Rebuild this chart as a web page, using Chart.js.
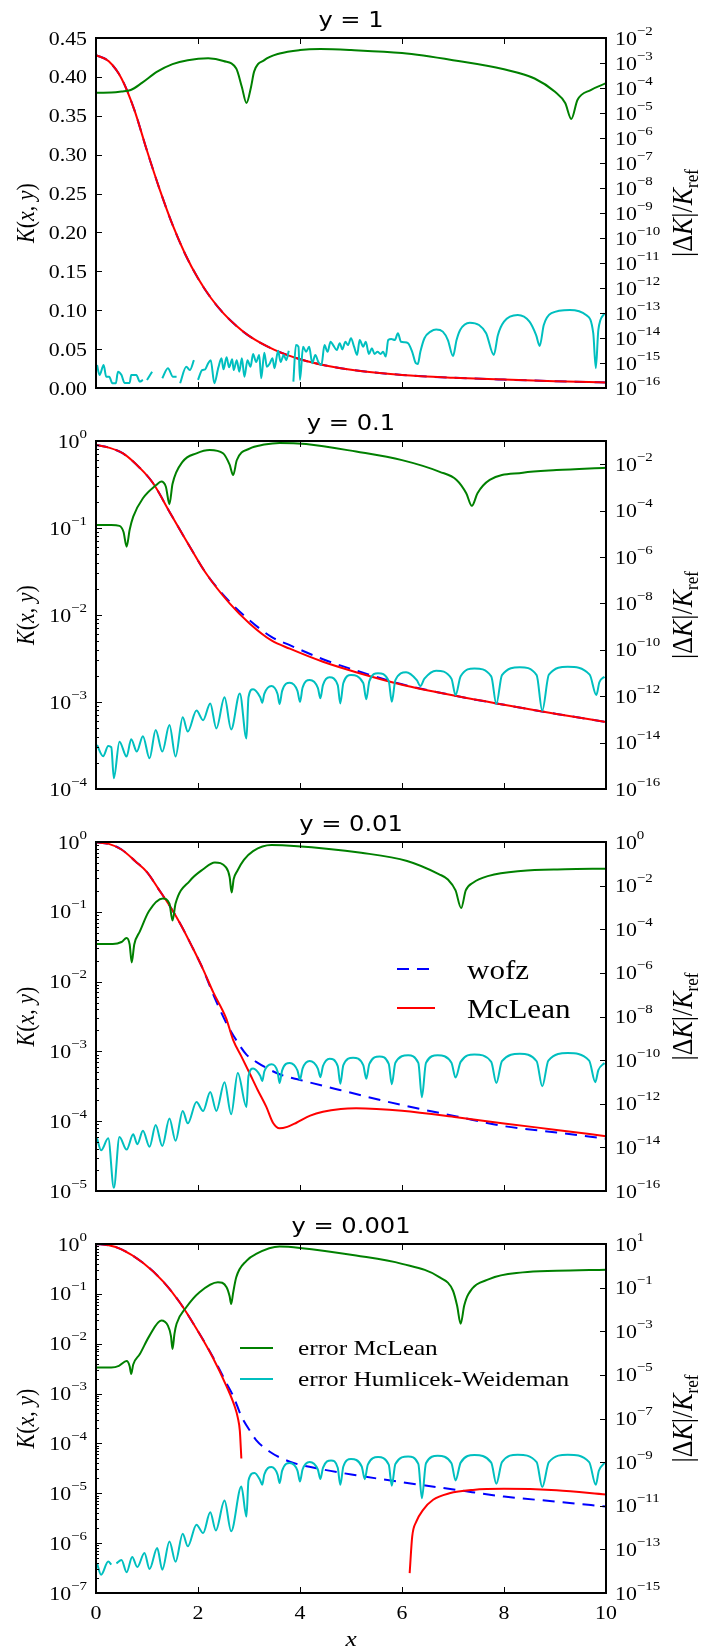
<!DOCTYPE html>
<html>
<head>
<meta charset="utf-8">
<script src="https://cdn.jsdelivr.net/npm/chart.js@4.4.0/dist/chart.umd.min.js"></script>
<style>
  body { margin: 0; background: #fff; width: 710px; height: 1650px; position: relative; overflow: hidden; }
  canvas { position: absolute; left: 0; }
</style>
</head>
<body>
<canvas id="c1" width="710" height="402" style="top:0px"></canvas>
<canvas id="c2" width="710" height="402" style="top:402px"></canvas>
<canvas id="c3" width="710" height="402" style="top:804px"></canvas>
<canvas id="c4" width="710" height="444" style="top:1206px"></canvas>
<script>
// panel titles, tick labels and legend texts
const titles = ['y = 1', 'y = 0.1', 'y = 0.01', 'y = 0.001'];
const xTicks = [0, 2, 4, 6, 8, 10];
const p1LeftTicks = [0, 0.05, 0.1, 0.15, 0.2, 0.25, 0.3, 0.35, 0.4, 0.45];
const p1RightExp = [-2, -3, -4, -5, -6, -7, -8, -9, -10, -11, -12, -13, -14, -15, -16];
const p2LeftExp = [0, -1, -2, -3, -4];
const p2RightExp = [-2, -4, -6, -8, -10, -12, -14, -16];
const p3LeftExp = [0, -1, -2, -3, -4, -5];
const p3RightExp = [0, -2, -4, -6, -8, -10, -12, -14, -16];
const p4LeftExp = [0, -1, -2, -3, -4, -5, -6, -7];
const p4RightExp = [1, -1, -3, -5, -7, -9, -11, -13, -15];
const legend3Labels = ['wofz', 'McLean'];
const legend4Labels = ['error McLean', 'error Humlicek-Weideman'];

// ---- y = 1 ----
const p1Red = [[0,0.428],[0.25,0.42],[0.5,0.398],[0.75,0.358],[1.0,0.305],[1.25,0.255],[1.5,0.21],[1.75,0.172],[2.0,0.141],[2.25,0.116],[2.5,0.096],[2.75,0.08],[3.0,0.067],[3.5,0.049],[4.0,0.037],[4.5,0.029],[5.0,0.0235],[6.0,0.0168],[7.0,0.0132],[8.0,0.0108],[9.0,0.0088],[10,0.0072]];
const p1Blue = [[0,0.428],[0.25,0.42],[0.5,0.398],[0.75,0.358],[1.0,0.305],[1.25,0.255],[1.5,0.21],[1.75,0.172],[2.0,0.141],[2.25,0.116],[2.5,0.096],[2.75,0.08],[3.0,0.067],[3.5,0.049],[4.0,0.037],[4.5,0.029],[5.0,0.0235],[6.0,0.0168],[7.0,0.0132],[8.0,0.0108],[9.0,0.0088],[10,0.0072]];
const p1Green = [[0,6.5e-5],[0.3,6.6e-5],[0.5,7.2e-5],[0.68,8.3e-5],[0.9,1.6e-4],[1.2,4.5e-4],[1.5,9e-4],[1.8,1.3e-3],[2.2,1.55e-3],[2.5,1.2e-3],[2.75,6e-4],[2.86,1.1e-4],[2.95,2.5e-5],[3.04,1.1e-4],[3.1,4.5e-4],[3.3,1.3e-3],[3.6,2.4e-3],[4.0,3.3e-3],[4.4,3.6e-3],[5.0,3.3e-3],[6.0,2.5e-3],[7.0,1.3e-3],[8.0,5.6e-4],[8.6,2.4e-4],[9.0,7e-5],[9.2,2.5e-5],[9.32,5.8e-6],[9.44,3.3e-5],[9.7,8.3e-5],[10,1.55e-4]];
const p1Cyan = [[0.02,8.3e-16],[0.07,3.3e-16],[0.15,8.3e-16],[0.2,2.8e-16],[0.26,2.8e-16],[0.32,1.55e-16],[0.39,1.55e-16],[0.43,4.5e-16],[0.5,3.3e-16],[0.56,1.6e-16],[0.66,1.6e-16],[0.69,3.3e-16],[0.79,3.3e-16],[0.86,1.8e-16],[0.92,2.1e-16],[0.96,null],
  [1.0,2.1e-16],[1.1,4.5e-16],[1.2,null],
  [1.3,2.45e-16],[1.41,6.2e-16],[1.51,2.8e-16],[1.58,2.8e-16],[1.62,null],
  [1.65,1.55e-16],[1.77,7.1e-16],[1.84,5.2e-16],[1.92,1.3e-15],[1.96,null],
  [2.0,2.1e-16],[2.08,5.2e-16],[2.14,5.6e-16],[2.2,9.8e-16],[2.25,1.3e-15],[2.32,1.55e-16],[2.4,6.7e-16],[2.46,1.55e-15],[2.5,5.6e-16],[2.56,1.7e-15],[2.61,6.7e-16],[2.67,1.4e-15],[2.7,5.2e-16],[2.76,1.3e-15],[2.81,4.5e-16],[2.86,1.55e-15],[2.91,2.8e-16],[2.97,1.3e-15],[3.03,7.1e-16],[3.08,2.3e-15],[3.14,1.1e-15],[3.2,2.1e-15],[3.24,2.45e-16],[3.3,2.6e-15],[3.35,7.1e-16],[3.41,9.8e-16],[3.46,1.55e-15],[3.5,6.2e-16],[3.57,3.1e-15],[3.62,1.1e-15],[3.68,2.1e-15],[3.73,1.3e-15],[3.78,3.1e-15],[3.82,null],
  [3.87,1.8e-16],[3.92,5.2e-15],[3.97,4.5e-15],[4.0,2.1e-16],[4.06,4.5e-15],[4.12,2.8e-15],[4.18,4.5e-15],[4.24,9.8e-16],[4.3,2.1e-15],[4.36,1.1e-15],[4.42,8.3e-16],[4.48,5.2e-15],[4.54,2.8e-15],[4.6,7.1e-15],[4.65,5.2e-15],[4.72,3.3e-15],[4.78,6.2e-15],[4.83,3.5e-15],[4.89,7.1e-15],[4.94,5.2e-15],[5.0,9.8e-15],[5.06,4.5e-15],[5.12,2.1e-15],[5.17,8.3e-15],[5.24,4.5e-15],[5.29,7.1e-15],[5.35,2.3e-15],[5.41,3.9e-15],[5.46,2.3e-15],[5.52,2.8e-15],[5.58,2.3e-15],[5.63,2.8e-15],[5.68,1.8e-15],[5.73,8.3e-15],[5.79,9.1e-15],[5.86,8.3e-15],[5.92,1.55e-14],[5.98,7.1e-15],[6.05,6.8e-15],[6.12,6.2e-15],[6.2,2.8e-15],[6.27,9.8e-16],[6.31,9.1e-16],
  [6.36,2.8e-15],[6.44,9.8e-15],[6.56,1.8e-14],[6.67,2.2e-14],[6.8,1.8e-14],[6.9,8.3e-15],[7.0,1.9e-15],[7.07,8.3e-15],[7.14,2.1e-14],[7.33,4.1e-14],[7.51,3.3e-14],[7.65,1.55e-14],[7.8,2.1e-15],[7.88,1.3e-14],[8.0,4.5e-14],[8.27,8.3e-14],[8.5,4.5e-14],[8.63,1.3e-14],[8.7,4.8e-15],[8.78,3.3e-14],[8.93,9.8e-14],[9.29,1.32e-13],[9.61,8.3e-14],[9.75,1.55e-14],[9.8,6.2e-16],[9.85,2.1e-14],[9.97,9.8e-14]];

// ---- y = 0.1 ----
const p2Red = [[0,0.9],[0.25,0.84],[0.53,0.72],[0.86,0.49],[1.12,0.327],[1.44,0.154],[1.84,0.061],[2.16,0.03],[2.62,0.0136],[3.01,0.008],[3.44,0.0051],[3.8,0.0041],[4.45,0.0029],[5.1,0.0022],[6.0,0.00158],[7.07,0.00117],[8.0,0.00093],[9.03,0.00073],[10,0.00059]];
const p2Blue = [[0,0.9],[0.25,0.84],[0.53,0.72],[0.86,0.49],[1.12,0.327],[1.44,0.154],[1.84,0.061],[2.16,0.03],[2.62,0.0142],[3.01,0.0087],[3.44,0.0056],[3.8,0.0045],[4.45,0.0031],[5.1,0.0023],[6.0,0.0016],[7.07,0.00117],[8.0,0.00093],[9.03,0.00073],[10,0.00059]];
const p2Green = [[0,2.4e-5],[0.3,2.4e-5],[0.46,2.2e-5],[0.54,1.2e-5],[0.6,2.8e-6],[0.66,1.5e-5],[0.73,5.5e-5],[0.92,3.4e-4],[1.18,1.26e-3],[1.28,1.8e-3],[1.37,1.07e-3],[1.44,1.9e-4],[1.5,1.4e-3],[1.7,0.0129],[1.97,0.0295],[2.23,0.041],[2.49,0.0295],[2.62,0.0095],[2.69,0.0034],[2.76,0.0148],[3.01,0.047],[3.3,0.07],[3.6,0.083],[4.12,0.074],[5.1,0.035],[6.0,0.015],[6.74,0.0047],[7.07,0.0021],[7.26,5.6e-4],[7.37,1.6e-4],[7.48,5.6e-4],[7.72,0.0021],[8.37,0.0043],[9.03,0.0056],[10,0.0071]];
const p2Cyan = [[0.02,7.9e-15],[0.14,2.6e-15],[0.24,7.1e-15],[0.3,6.3e-15],[0.35,2.9e-16],[0.46,1.1e-14],[0.6,2.5e-15],[0.69,1.4e-14],[0.8,4.1e-15],[0.92,1.9e-14],[1.05,2.1e-15],[1.17,3.5e-14],[1.3,4.1e-15],[1.44,5.7e-14],[1.56,2.5e-15],[1.7,1.23e-13],[1.8,3e-14],[1.97,2.4e-13],[2.1,9.3e-14],[2.24,4.9e-13],[2.36,4.1e-14],[2.52,8.9e-13],[2.65,3.7e-14],[2.82,1.32e-12],[2.95,1.5e-14],
  [2.99,9e-13],[3.08,2e-12],[3.22,9e-13],[3.26,5.2e-13],
  [3.30,1.25e-12],[3.44,2.75e-12],[3.56,1.25e-12],[3.6,4.6e-13],
  [3.65,1.7e-12],[3.8,3.8e-12],[3.95,1.7e-12],[4.0,5.7e-13],
  [4.05,2.3e-12],[4.19,5e-12],[4.35,2.3e-12],[4.4,8.1e-13],
  [4.45,3e-12],[4.58,6.5e-12],[4.74,3e-12],[4.79,4.9e-13],
  [4.85,3.7e-12],[5.0,8.1e-12],[5.24,3.7e-12],[5.3,7.4e-13],
  [5.36,4.5e-12],[5.53,9.8e-12],[5.74,4.5e-12],[5.8,5.7e-13],
  [5.87,4.9e-12],[6.08,1.07e-11],[6.29,4.9e-12],[6.36,2.75e-12],
  [6.44,5.7e-12],[6.67,1.26e-11],[6.97,5.7e-12],[7.05,1.12e-12],
  [7.15,7.2e-12],[7.42,1.58e-11],[7.75,7.2e-12],[7.85,4.6e-13],
  [7.96,8.1e-12],[8.31,1.78e-11],[8.64,8.1e-12],[8.75,2.4e-13],
  [8.88,8.5e-12],[9.25,1.86e-11],[9.68,8.5e-12],[9.81,1.12e-12],
  [9.87,4e-12],[9.97,6.9e-12]];

// ---- y = 0.01 ----
const p3Red = [[0,0.99],[0.25,0.94],[0.5,0.78],[0.77,0.53],[1.0,0.37],[1.22,0.215],[1.45,0.12],[1.66,0.066],[1.9,0.03],[2.1,0.015],[2.3,0.007],[2.55,0.003],[2.69,1.45e-3],[2.85,8.5e-4],[3.01,4.9e-4],[3.17,2.8e-4],[3.34,1.6e-4],[3.47,9.5e-5],[3.6,7.9e-5],[3.75,8.3e-5],[3.93,9.5e-5],[4.2,1.2e-4],[4.45,1.37e-4],[4.8,1.5e-4],[5.1,1.53e-4],[5.5,1.5e-4],[6.0,1.41e-4],[7.07,1.14e-4],[8.0,9.3e-5],[9.03,7.5e-5],[10,6.1e-5]];
const p3Blue = [[0,0.99],[0.25,0.94],[0.5,0.78],[0.77,0.53],[1.0,0.37],[1.22,0.215],[1.45,0.12],[1.66,0.066],[1.9,0.03],[2.1,0.015],[2.3,0.0065],[2.55,0.0026],[2.75,1.45e-3],[2.95,9e-4],[3.14,7.1e-4],[3.6,4.7e-4],[4.0,3.9e-4],[4.78,2.8e-4],[6.0,1.7e-4],[7.07,1.17e-4],[8.0,8.5e-5],[9.03,6.9e-5],[10,5.6e-5]];
const p3Green = [[0,2.1e-5],[0.33,2.1e-5],[0.5,2.6e-5],[0.6,4e-5],[0.66,2e-5],[0.7,3e-6],[0.75,2e-5],[0.86,8e-5],[1.04,6.9e-4],[1.31,2.6e-3],[1.44,1.5e-3],[1.5,2.5e-4],[1.56,1.5e-3],[1.84,0.0166],[2.1,0.056],[2.33,0.115],[2.55,0.068],[2.62,0.025],[2.66,0.0048],[2.7,0.02],[2.77,0.047],[2.9,0.15],[3.08,0.38],[3.44,0.72],[3.88,0.66],[5.2,0.32],[6.1,0.135],[6.73,0.033],[6.9,0.019],[7.05,0.006],[7.16,9.3e-4],[7.25,0.006],[7.4,0.014],[7.7,0.028],[8.33,0.047],[9.2,0.056],[10,0.06]];
const p3Cyan = [[0.02,2.6e-14],[0.1,7.4e-15],[0.24,2.6e-14],[0.35,1.4e-16],[0.46,3e-14],[0.6,7.9e-15],[0.73,4e-14],[0.81,1.4e-14],[0.92,5.8e-14],[1.05,1.07e-14],[1.17,1.07e-13],[1.3,1.15e-14],[1.44,2.1e-13],[1.56,2e-14],[1.7,4.7e-13],[1.8,1.26e-13],[1.97,1.2e-12],[2.1,4.7e-13],[2.24,3.5e-12],[2.36,4.7e-13],[2.52,9.8e-12],[2.65,3.3e-13],[2.78,2.6e-11],[2.95,7.1e-13],
  [2.99,1.9e-11],[3.08,4.1e-11],[3.22,1.9e-11],[3.26,1.1e-11],
  [3.30,3e-11],[3.44,6.5e-11],[3.56,3e-11],[3.6,8.9e-12],
  [3.65,3.4e-11],[3.8,7.4e-11],[3.95,3.4e-11],[4.0,1.26e-11],
  [4.05,4.1e-11],[4.19,9.1e-11],[4.35,4.1e-11],[4.4,1.66e-11],
  [4.45,5.3e-11],[4.58,1.17e-10],[4.74,5.3e-11],[4.79,8.3e-12],
  [4.85,5.9e-11],[5.04,1.29e-10],[5.24,5.9e-11],[5.3,1.4e-11],
  [5.36,6.7e-11],[5.56,1.48e-10],[5.74,6.7e-11],[5.8,7.8e-12],
  [5.87,7.5e-11],[6.12,1.66e-10],[6.32,7.5e-11],[6.39,2e-12],
  [6.47,7.5e-11],[6.7,1.66e-10],[6.97,7.5e-11],[7.05,1.58e-11],
  [7.15,8.3e-11],[7.42,1.82e-10],[7.75,8.3e-11],[7.85,8.9e-12],
  [7.96,8.9e-11],[8.31,1.95e-10],[8.64,8.9e-11],[8.75,6.3e-12],
  [8.87,9.5e-11],[9.25,2.1e-10],[9.67,9.5e-11],[9.79,9.8e-12],
  [9.85,3.5e-11],[9.97,7.4e-11]];

// ---- y = 0.001 ----
const p4Red = [[0,1.0],[0.25,0.94],[0.5,0.78],[0.92,0.42],[1.31,0.18],[1.64,0.068],[1.97,0.02],[2.29,0.0053],[2.56,0.0014],[2.72,5.5e-4],[2.78,3.3e-4],[2.82,1.8e-4],[2.85,5e-5],[2.9,null],
  [6.15,2.5e-7],[6.2,1.35e-6],[6.28,2.7e-6],[6.41,4.6e-6],[6.61,7.4e-6],[6.93,1e-5],[7.39,1.17e-5],[8.0,1.23e-5],[9.03,1.15e-5],[10,9.5e-6]];
const p4Blue = [[0,1.0],[0.25,0.94],[0.5,0.78],[0.92,0.42],[1.31,0.18],[1.64,0.068],[1.97,0.02],[2.29,0.0055],[2.56,1.6e-3],[2.7,8.5e-4],[2.85,3.5e-4],[3.05,1.6e-4],[3.14,1.17e-4],[3.4,6.9e-5],[3.8,4.3e-5],[4.45,3e-5],[5.1,2.3e-5],[6.0,1.67e-5],[7.07,1.17e-5],[8.0,8.6e-6],[9.03,6.8e-6],[10,5.4e-6]];
const p4Green = [[0,2.2e-5],[0.3,2.2e-5],[0.45,2.6e-5],[0.6,4.3e-5],[0.66,2.5e-5],[0.69,1.1e-5],[0.73,3e-5],[0.86,9e-5],[1.05,6.3e-4],[1.28,3.1e-3],[1.41,1.8e-3],[1.47,6e-4],[1.5,1.55e-4],[1.54,8e-4],[1.58,2.2e-3],[1.77,0.0126],[2.03,0.062],[2.39,0.178],[2.56,0.105],[2.62,0.04],[2.65,0.0178],[2.69,0.06],[2.75,0.3],[2.95,1.7],[3.14,3.5],[3.6,7.6],[4.0,6.6],[5.1,2.95],[6.0,1.23],[6.74,0.295],[7.0,0.072],[7.08,0.015],[7.15,0.0022],[7.22,0.015],[7.3,0.05],[7.72,0.25],[8.37,0.5],[9.03,0.59],[10,0.66]];
const p4Cyan = [[0.02,2.3e-14],[0.1,6.9e-15],[0.24,2.8e-14],[0.3,2e-14],[0.33,null],[0.4,2.3e-14],[0.5,3.3e-14],[0.6,8.9e-15],[0.71,4.5e-14],[0.81,1.55e-14],[0.95,6.8e-14],[1.05,1.26e-14],[1.2,1.15e-13],[1.3,1.17e-14],[1.44,2.3e-13],[1.56,2.7e-14],[1.7,5.2e-13],[1.8,1.38e-13],[1.97,1.35e-12],[2.1,5.6e-13],[2.24,5e-12],[2.35,7.4e-13],[2.52,1.74e-11],[2.65,6.8e-13],[2.85,7.6e-11],[2.95,3.2e-12],
  [2.99,1.45e-10],[3.11,3.2e-10],[3.22,1.45e-10],[3.26,9.1e-11],
  [3.30,2.7e-10],[3.44,5.9e-10],[3.56,2.7e-10],[3.6,1.1e-10],
  [3.65,4.1e-10],[3.8,9.1e-10],[3.95,4.1e-10],[4.0,1.29e-10],
  [4.05,4.6e-10],[4.19,1.02e-9],[4.35,4.6e-10],[4.4,1.7e-10],
  [4.45,5.5e-10],[4.61,1.2e-9],[4.74,5.5e-10],[4.79,9.1e-11],
  [4.85,6.3e-10],[5.0,1.38e-9],[5.21,6.3e-10],[5.27,1.66e-10],
  [5.33,7.7e-10],[5.53,1.7e-9],[5.74,7.7e-10],[5.8,8.3e-11],
  [5.87,8.3e-10],[6.12,1.82e-9],[6.32,8.3e-10],[6.39,2.2e-11],
  [6.47,8.9e-10],[6.7,1.95e-9],[6.97,8.9e-10],[7.05,1.45e-10],
  [7.15,9.5e-10],[7.42,2.1e-9],[7.75,9.5e-10],[7.85,1.02e-10],
  [7.96,1e-9],[8.27,2.2e-9],[8.64,1e-9],[8.75,7.2e-11],
  [8.88,1e-9],[9.25,2.2e-9],[9.67,1e-9],[9.8,9.1e-11],
  [9.86,4e-10],[9.97,9.1e-10]];

const RED = '#ff0000', BLUE = '#0000ff', GREEN = '#008000', CYAN = '#00bfbf';
const SERIF = '"Liberation Serif", "DejaVu Serif", serif';
const SANS = '"DejaVu Sans", sans-serif';
const SX = 1.15;   // the original figure is stretched sideways
const FS = 19;     // tick label size

// draw a run of text pieces (for superscripts/subscripts)
function rich(ctx, parts, x, y, align, rot) {
  ctx.save();
  ctx.translate(x, y);
  ctx.scale(SX, 1);
  if (rot) ctx.rotate(rot);
  ctx.textAlign = 'left';
  ctx.textBaseline = 'alphabetic';
  let w = 0;
  parts.forEach(p => { ctx.font = p.f; p.w = ctx.measureText(p.t).width; w += p.w; });
  let cx = align === 'right' ? -w : align === 'center' ? -w / 2 : 0;
  parts.forEach(p => { ctx.font = p.f; ctx.fillText(p.t, cx, p.dy || 0); cx += p.w; });
  ctx.restore();
}
const rm = s => s + 'px ' + SERIF;
const it = s => 'italic ' + s + 'px ' + SERIF;
function pow(e) {
  return [{t: '10', f: rm(FS)}, {t: (e < 0 ? '\u2212' : '') + Math.abs(e), f: rm(13), dy: -10}];
}

function axesPlugin(p) {
  return {
    id: 'axes' + p.id,
    afterDatasetsDraw(chart) {
      const ctx = chart.ctx, a = chart.chartArea;
      const sx = chart.scales.x, yl = chart.scales.yL, yr = chart.scales.yR;
      ctx.save();
      ctx.strokeStyle = '#000';
      ctx.fillStyle = '#000';
      ctx.lineWidth = 1;
      ctx.beginPath();
      xTicks.forEach(v => {
        const X = Math.round(sx.getPixelForValue(v)) + 0.5;
        ctx.moveTo(X, a.top); ctx.lineTo(X, a.top + 6);
        ctx.moveTo(X, a.bottom); ctx.lineTo(X, a.bottom - 6);
      });
      const leftVals = p.leftLinear ? p.leftTicks : p.leftExp.map(e => Math.pow(10, e));
      leftVals.forEach(v => {
        const Y = Math.round(yl.getPixelForValue(v)) + 0.5;
        ctx.moveTo(a.left, Y); ctx.lineTo(a.left + 6, Y);
      });
      if (!p.leftLinear) {
        const lo = Math.min(...p.leftExp), hi = Math.max(...p.leftExp);
        for (let e = lo; e < hi; e++) {
          for (let m = 2; m <= 9; m++) {
            const Y = Math.round(yl.getPixelForValue(m * Math.pow(10, e))) + 0.5;
            ctx.moveTo(a.left, Y); ctx.lineTo(a.left + 3, Y);
          }
        }
      }
      p.rightExp.forEach(e => {
        const Y = Math.round(yr.getPixelForValue(Math.pow(10, e))) + 0.5;
        ctx.moveTo(a.right, Y); ctx.lineTo(a.right - 6, Y);
      });
      ctx.stroke();
      ctx.lineWidth = 2;
      ctx.strokeRect(a.left, a.top, a.right - a.left, a.bottom - a.top);

      // tick labels
      if (p.leftLinear) {
        p.leftTicks.forEach(v => rich(ctx, [{t: v.toFixed(2), f: rm(FS)}], a.left - 9, yl.getPixelForValue(v) + 6.5, 'right'));
      } else {
        p.leftExp.forEach(e => rich(ctx, pow(e), a.left - 9, yl.getPixelForValue(Math.pow(10, e)) + 6.5, 'right'));
      }
      p.rightExp.forEach(e => rich(ctx, pow(e), a.right + 9, yr.getPixelForValue(Math.pow(10, e)) + 6.5, 'left'));
      if (p.xLabels) {
        xTicks.forEach(v => rich(ctx, [{t: String(v), f: rm(FS)}], sx.getPixelForValue(v), a.bottom + 26, 'center'));
        rich(ctx, [{t: 'x', f: it(22)}], (a.left + a.right) / 2, a.bottom + 53, 'center');
      }

      // title and axis titles
      rich(ctx, [{t: p.title, f: '21px ' + SANS}], (a.left + a.right) / 2, a.top - 11, 'center');
      const midY = (a.top + a.bottom) / 2;
      rich(ctx, [{t: 'K', f: it(22)}, {t: '(', f: rm(22)}, {t: 'x', f: it(22)}, {t: ', ', f: rm(22)},
                 {t: 'y', f: it(22)}, {t: ')', f: rm(22)}], 34, midY, 'center', -Math.PI / 2);
      rich(ctx, [{t: '|\u0394', f: rm(26)}, {t: 'K', f: it(26)}, {t: '|/', f: rm(26)}, {t: 'K', f: it(26)},
                 {t: 'ref', f: rm(17), dy: 5}], 692, midY, 'center', -Math.PI / 2);

      // legend
      if (p.legend) {
        const L = p.legend;
        L.items.forEach((item, i) => {
          const Y = a.top + L.y0 + i * L.dy;
          ctx.strokeStyle = item.color;
          ctx.lineWidth = 2;
          ctx.setLineDash(item.dash ? [12, 8] : []);
          ctx.beginPath();
          ctx.moveTo(L.x0, Y); ctx.lineTo(L.x1, Y);
          ctx.stroke();
          ctx.setLineDash([]);
          rich(ctx, [{t: item.label, f: rm(L.size)}], L.tx, Y + L.base, 'left');
        });
      }
      ctx.restore();
    }
  };
}

function buildPanel(p) {
  const ds = (data, color, axis, extra) => Object.assign({
    data: data.map(([x, y]) => ({x: x, y: y})),
    borderColor: color, backgroundColor: color, yAxisID: axis, xAxisID: 'x',
    borderWidth: 2, pointRadius: 0, fill: false, spanGaps: false,
    cubicInterpolationMode: 'monotone'
  }, extra || {});
  new Chart(document.getElementById(p.id), {
    type: 'line',
    data: {
      datasets: [
        ds(p.cyan, CYAN, 'yR'),
        ds(p.green, GREEN, 'yR'),
        ds(p.red, RED, 'yL'),
        ds(p.blue, BLUE, 'yL', {borderDash: [12, 8]})
      ]
    },
    options: {
      responsive: false,
      animation: false,
      devicePixelRatio: 1,
      layout: {padding: {left: 96, right: 104, top: p.padTop, bottom: p.padBottom}},
      plugins: {legend: {display: false}, tooltip: {enabled: false}, title: {display: false}},
      events: [],
      scales: {
        x: {type: 'linear', min: 0, max: 10, display: false, bounds: 'data'},
        yL: p.leftLinear
          ? {type: 'linear', min: 0, max: 0.45, display: false, bounds: 'data'}
          : {type: 'logarithmic', min: p.leftMin, max: 1, display: false},
        yR: {type: 'logarithmic', min: p.rightMin, max: p.rightMax, display: false}
      }
    },
    plugins: [axesPlugin(p)]
  });
}

buildPanel({id: 'c1', title: titles[0], padTop: 38, padBottom: 14,
  leftLinear: true, leftTicks: p1LeftTicks, rightExp: p1RightExp, rightMin: 1e-16, rightMax: 1e-2,
  red: p1Red, blue: p1Blue, green: p1Green, cyan: p1Cyan});
buildPanel({id: 'c2', title: titles[1], padTop: 39, padBottom: 15,
  leftExp: p2LeftExp, leftMin: 1e-4, rightExp: p2RightExp, rightMin: 1e-16, rightMax: 1e-1,
  red: p2Red, blue: p2Blue, green: p2Green, cyan: p2Cyan});
buildPanel({id: 'c3', title: titles[2], padTop: 38, padBottom: 15,
  leftExp: p3LeftExp, leftMin: 1e-5, rightExp: p3RightExp, rightMin: 1e-16, rightMax: 1,
  red: p3Red, blue: p3Blue, green: p3Green, cyan: p3Cyan,
  legend: {x0: 397, x1: 435, tx: 467, y0: 127, dy: 39, base: 10, size: 27,
    items: [{label: legend3Labels[0], color: BLUE, dash: true}, {label: legend3Labels[1], color: RED}]}});
buildPanel({id: 'c4', title: titles[3], padTop: 38, padBottom: 57, xLabels: true,
  leftExp: p4LeftExp, leftMin: 1e-7, rightExp: p4RightExp, rightMin: 1e-15, rightMax: 10,
  red: p4Red, blue: p4Blue, green: p4Green, cyan: p4Cyan,
  legend: {x0: 240, x1: 273, tx: 298, y0: 104, dy: 31, base: 7, size: 22,
    items: [{label: legend4Labels[0], color: GREEN}, {label: legend4Labels[1], color: CYAN}]}});
</script>
</body>
</html>
